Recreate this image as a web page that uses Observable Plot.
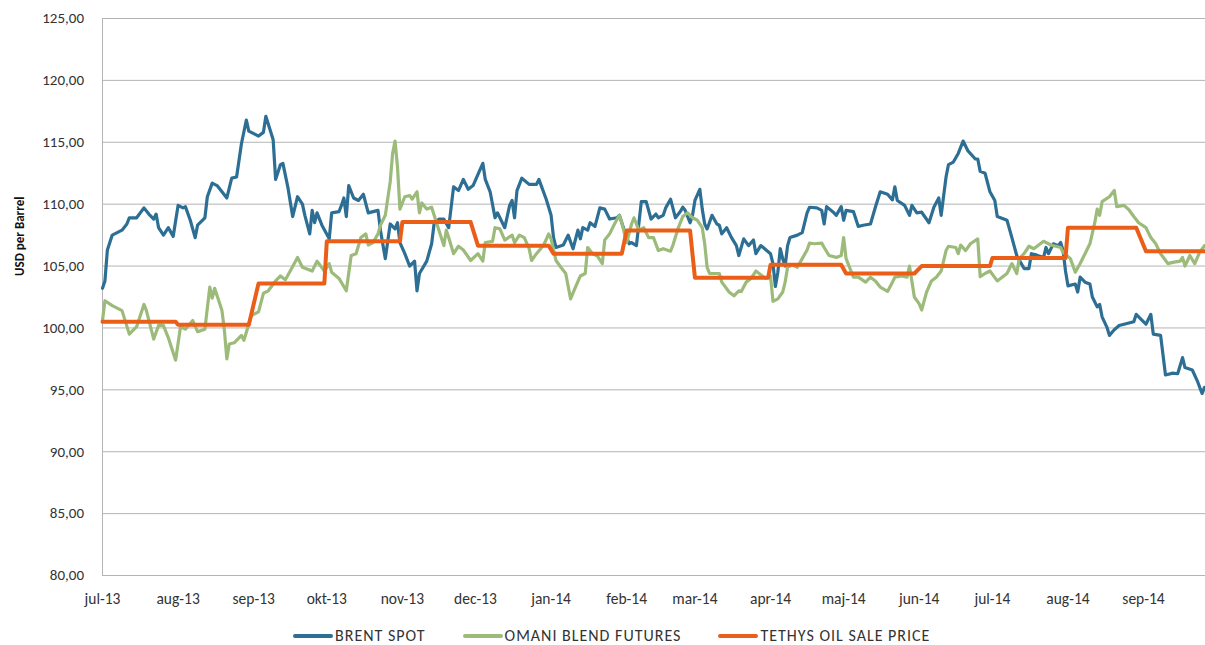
<!DOCTYPE html>
<html>
<head>
<meta charset="utf-8">
<script src="https://cdn.jsdelivr.net/npm/d3@7"></script>
<script src="https://cdn.jsdelivr.net/npm/@observablehq/plot@0.6"></script>
<style>
  html, body { margin: 0; padding: 0; background: #fff; }
  body { width: 1205px; height: 645px; overflow: hidden; font-family: Carlito, Lato, "Liberation Sans", sans-serif; position: relative; }
  #chart svg { display: block; }
  #legend { position: absolute; top: 627px; left: 293px; display: flex; gap: 37px; font-size: 16px; line-height: 17px; color: #333; letter-spacing: 1px; }
  .item { display: flex; align-items: center; }
  .sw { width: 40px; height: 4px; margin-right: 2px; border-radius: 2px; }
</style>
</head>
<body>
<div id="chart"></div>
<div id="legend"></div>
<script>
const seriesNames = ["BRENT SPOT", "OMANI BLEND FUTURES", "TETHYS OIL SALE PRICE"];
const seriesColors = ["#2d6f94", "#9cbb7a", "#eb5e17"];

const yTicks = [80, 85, 90, 95, 100, 105, 110, 115, 120, 125];
const monthTicks = ["2013-07-01","2013-08-01","2013-09-01","2013-10-01","2013-11-01","2013-12-01","2014-01-01","2014-02-01","2014-03-01","2014-04-01","2014-05-01","2014-06-01","2014-07-01","2014-08-01","2014-09-01"];
const monthLabels = ["jul-13","aug-13","sep-13","okt-13","nov-13","dec-13","jan-14","feb-14","mar-14","apr-14","maj-14","jun-14","jul-14","aug-14","sep-14"];

const brent = [
["2013-07-01",103.2],["2013-07-02",103.8],["2013-07-03",106.3],["2013-07-05",107.5],["2013-07-09",107.9],["2013-07-11",108.4],["2013-07-12",108.9],["2013-07-15",108.9],["2013-07-18",109.7],["2013-07-20",109.2],["2013-07-22",108.8],["2013-07-23",109.2],["2013-07-24",108.1],["2013-07-26",107.5],["2013-07-28",108.1],["2013-07-30",107.4],
["2013-08-01",109.9],["2013-08-03",109.7],["2013-08-04",109.8],["2013-08-06",108.7],["2013-08-08",107.3],["2013-08-09",108.3],["2013-08-12",108.9],["2013-08-13",110.6],["2013-08-15",111.7],["2013-08-17",111.5],["2013-08-19",111.0],["2013-08-21",110.5],["2013-08-23",112.1],["2013-08-25",112.2],["2013-08-27",114.9],["2013-08-29",116.8],["2013-08-30",115.9],
["2013-09-03",115.5],["2013-09-05",115.8],["2013-09-06",117.1],["2013-09-09",115.2],["2013-09-10",112.0],["2013-09-12",113.2],["2013-09-13",113.3],["2013-09-15",111.4],["2013-09-17",109.0],["2013-09-19",110.6],["2013-09-21",110.0],["2013-09-22",109.1],["2013-09-24",107.6],["2013-09-25",109.5],["2013-09-26",108.5],["2013-09-27",109.3],["2013-09-29",108.3],
["2013-10-02",107.2],["2013-10-03",109.3],["2013-10-06",109.4],["2013-10-07",109.9],["2013-10-08",110.5],["2013-10-09",109.0],["2013-10-10",111.5],["2013-10-12",110.5],["2013-10-14",110.3],["2013-10-16",110.8],["2013-10-18",109.3],["2013-10-22",109.5],["2013-10-23",107.9],["2013-10-25",105.6],["2013-10-27",108.4],["2013-10-29",108.0],["2013-10-30",108.5],["2013-10-31",106.9],
["2013-11-02",106.0],["2013-11-04",105.0],["2013-11-06",105.4],["2013-11-07",103.0],["2013-11-08",104.4],["2013-11-11",105.4],["2013-11-13",106.8],["2013-11-14",108.4],["2013-11-16",108.8],["2013-11-18",108.8],["2013-11-20",108.1],["2013-11-22",111.4],["2013-11-24",111.1],["2013-11-26",112.0],["2013-11-28",111.2],["2013-11-30",111.5],
["2013-12-03",112.85],["2013-12-04",113.3],["2013-12-05",112.0],["2013-12-07",111.0],["2013-12-09",108.9],["2013-12-10",109.3],["2013-12-13",108.1],["2013-12-15",109.9],["2013-12-16",110.3],["2013-12-17",108.9],["2013-12-18",111.1],["2013-12-20",112.1],["2013-12-23",111.6],["2013-12-26",111.6],["2013-12-27",112.0],["2013-12-30",110.4],
["2014-01-01",109.1],["2014-01-02",107.3],["2014-01-03",106.5],["2014-01-06",106.7],["2014-01-08",107.5],["2014-01-10",106.4],["2014-01-12",107.9],["2014-01-13",107.2],["2014-01-14",108.1],["2014-01-16",107.9],["2014-01-17",108.5],["2014-01-19",108.2],["2014-01-21",109.7],["2014-01-23",109.6],["2014-01-25",108.8],["2014-01-28",108.9],["2014-01-29",109.1],["2014-01-31",107.9],
["2014-02-02",106.8],["2014-02-03",106.9],["2014-02-05",106.65],["2014-02-07",110.2],["2014-02-09",110.2],["2014-02-11",108.8],["2014-02-13",109.2],["2014-02-14",108.9],["2014-02-16",109.1],["2014-02-17",109.7],["2014-02-19",110.4],["2014-02-21",108.9],["2014-02-23",109.4],["2014-02-24",109.75],["2014-02-25",109.5],["2014-02-27",108.5],["2014-02-28",109.1],
["2014-03-01",110.3],["2014-03-03",111.2],["2014-03-04",109.6],["2014-03-05",108.4],["2014-03-06",108.0],["2014-03-08",109.1],["2014-03-10",108.4],["2014-03-11",108.3],["2014-03-12",107.6],["2014-03-14",108.1],["2014-03-16",107.3],["2014-03-18",106.65],["2014-03-19",105.85],["2014-03-21",107.2],["2014-03-23",106.65],["2014-03-25",107.1],["2014-03-26",106.0],["2014-03-28",106.65],["2014-03-29",106.5],
["2014-04-01",106.0],["2014-04-02",105.2],["2014-04-03",103.35],["2014-04-04",104.5],["2014-04-05",106.4],["2014-04-06",105.6],["2014-04-07",105.0],["2014-04-08",106.65],["2014-04-09",107.3],["2014-04-12",107.5],["2014-04-14",107.7],["2014-04-16",109.3],["2014-04-17",109.75],["2014-04-20",109.7],["2014-04-22",109.5],["2014-04-23",108.4],["2014-04-24",109.8],["2014-04-27",109.3],["2014-04-28",109.1],["2014-04-30",109.8],
["2014-05-01",108.7],["2014-05-02",109.5],["2014-05-05",109.4],["2014-05-07",108.2],["2014-05-09",108.3],["2014-05-12",108.4],["2014-05-14",109.75],["2014-05-16",111.0],["2014-05-19",110.8],["2014-05-21",110.35],["2014-05-22",111.4],["2014-05-23",110.3],["2014-05-26",109.9],["2014-05-28",109.1],["2014-05-29",109.9],["2014-05-31",109.3],
["2014-06-02",109.35],["2014-06-05",108.5],["2014-06-07",109.75],["2014-06-09",110.5],["2014-06-10",109.1],["2014-06-12",112.2],["2014-06-13",113.2],["2014-06-15",113.4],["2014-06-17",114.1],["2014-06-19",115.1],["2014-06-21",114.3],["2014-06-24",113.65],["2014-06-25",113.65],["2014-06-26",112.65],["2014-06-28",112.5],["2014-06-30",111.0],
["2014-07-02",110.3],["2014-07-03",109.0],["2014-07-07",108.7],["2014-07-09",107.3],["2014-07-11",105.85],["2014-07-14",104.8],["2014-07-16",104.8],["2014-07-17",106.0],["2014-07-19",105.9],["2014-07-22",105.7],["2014-07-23",106.5],["2014-07-24",106.0],["2014-07-26",106.8],["2014-07-28",106.65],["2014-07-29",106.9],["2014-07-30",106.25],["2014-07-31",104.6],
["2014-08-01",103.4],["2014-08-04",103.55],["2014-08-05",102.9],["2014-08-06",104.1],["2014-08-08",103.7],["2014-08-10",103.55],["2014-08-11",102.5],["2014-08-13",101.7],["2014-08-14",101.9],["2014-08-15",100.9],["2014-08-17",100.05],["2014-08-18",99.4],["2014-08-20",99.85],["2014-08-22",100.2],["2014-08-24",100.3],["2014-08-26",100.4],["2014-08-28",100.5],["2014-08-29",101.1],["2014-08-31",100.7],
["2014-09-02",100.3],["2014-09-04",101.1],["2014-09-05",99.5],["2014-09-08",99.4],["2014-09-10",96.2],["2014-09-13",96.35],["2014-09-15",96.3],["2014-09-17",97.6],["2014-09-18",96.8],["2014-09-21",96.6],["2014-09-23",95.75],["2014-09-25",94.7],["2014-09-26",95.2]
];

const omani = [
["2013-07-01",100.6],["2013-07-02",102.2],["2013-07-05",101.8],["2013-07-08",101.5],["2013-07-09",101.4],["2013-07-12",99.5],["2013-07-15",100.1],["2013-07-18",101.9],["2013-07-19",101.4],["2013-07-22",99.1],["2013-07-24",100.2],["2013-07-26",100.2],["2013-07-28",99.2],["2013-07-31",97.4],
["2013-08-02",100.1],["2013-08-04",99.9],["2013-08-07",100.6],["2013-08-09",99.7],["2013-08-12",99.9],["2013-08-14",103.3],["2013-08-15",102.4],["2013-08-16",103.2],["2013-08-19",101.4],["2013-08-20",99.8],["2013-08-21",97.5],["2013-08-22",98.7],["2013-08-24",98.8],["2013-08-27",99.4],["2013-08-28",99.0],["2013-08-30",100.3],["2013-08-31",101.0],
["2013-09-03",101.3],["2013-09-05",102.8],["2013-09-07",103.0],["2013-09-10",103.8],["2013-09-12",104.2],["2013-09-14",103.9],["2013-09-16",104.6],["2013-09-19",105.7],["2013-09-21",104.9],["2013-09-25",104.6],["2013-09-27",105.4],["2013-09-30",104.6],
["2013-10-02",105.2],["2013-10-03",104.5],["2013-10-06",104.0],["2013-10-09",103.0],["2013-10-11",105.85],["2013-10-13",106.0],["2013-10-15",107.3],["2013-10-17",107.6],["2013-10-18",106.7],["2013-10-20",106.9],["2013-10-22",107.6],["2013-10-23",108.3],["2013-10-25",109.1],["2013-10-27",111.8],["2013-10-28",114.1],["2013-10-29",115.1],["2013-10-30",113.0],["2013-10-31",109.6],
["2013-11-02",110.6],["2013-11-04",110.7],["2013-11-05",110.4],["2013-11-07",111.0],["2013-11-08",109.3],["2013-11-09",110.1],["2013-11-11",109.6],["2013-11-13",109.75],["2013-11-15",108.5],["2013-11-16",107.9],["2013-11-18",106.65],["2013-11-19",107.9],["2013-11-20",107.3],["2013-11-22",106.0],["2013-11-24",106.6],["2013-11-26",106.3],["2013-11-29",105.45],
["2013-12-02",106.0],["2013-12-04",105.4],["2013-12-05",106.9],["2013-12-08",107.0],["2013-12-09",108.1],["2013-12-11",108.0],["2013-12-13",107.1],["2013-12-16",107.5],["2013-12-17",106.9],["2013-12-19",107.5],["2013-12-21",107.3],["2013-12-23",106.4],["2013-12-24",105.45],["2013-12-26",106.0],["2013-12-29",106.7],["2013-12-31",107.6],
["2014-01-01",107.2],["2014-01-03",105.45],["2014-01-05",104.9],["2014-01-07",104.4],["2014-01-09",102.35],["2014-01-11",103.3],["2014-01-13",104.2],["2014-01-15",104.4],["2014-01-16",106.5],["2014-01-18",106.0],["2014-01-20",105.8],["2014-01-22",105.2],["2014-01-23",107.1],["2014-01-25",107.6],["2014-01-27",108.4],["2014-01-29",109.1],["2014-01-30",108.5],
["2014-02-01",106.9],["2014-02-03",108.4],["2014-02-04",108.9],["2014-02-06",107.9],["2014-02-08",108.1],["2014-02-10",107.3],["2014-02-12",107.3],["2014-02-14",106.25],["2014-02-16",106.4],["2014-02-19",106.2],["2014-02-20",106.7],["2014-02-22",108.0],["2014-02-24",109.0],["2014-02-26",109.3],["2014-02-28",108.9],
["2014-03-02",108.7],["2014-03-04",108.1],["2014-03-05",106.8],["2014-03-06",104.9],["2014-03-07",104.4],["2014-03-09",104.4],["2014-03-11",104.4],["2014-03-12",103.7],["2014-03-15",102.9],["2014-03-17",102.6],["2014-03-19",103.0],["2014-03-20",102.95],["2014-03-22",103.7],["2014-03-24",104.0],["2014-03-26",104.6],["2014-03-28",104.3],["2014-03-30",104.0],
["2014-04-01",104.2],["2014-04-02",102.15],["2014-04-04",102.35],["2014-04-06",102.9],["2014-04-07",103.7],["2014-04-08",104.9],["2014-04-10",105.1],["2014-04-12",104.9],["2014-04-14",105.6],["2014-04-16",106.3],["2014-04-17",106.85],["2014-04-19",106.8],["2014-04-22",106.85],["2014-04-23",106.5],["2014-04-25",105.85],["2014-04-28",105.7],["2014-04-30",105.85],
["2014-05-01",107.3],["2014-05-02",105.6],["2014-05-04",104.6],["2014-05-05",104.1],["2014-05-07",104.1],["2014-05-10",103.7],["2014-05-12",104.1],["2014-05-14",103.8],["2014-05-16",103.3],["2014-05-19",102.95],["2014-05-21",103.7],["2014-05-22",104.1],["2014-05-25",104.2],["2014-05-27",104.1],["2014-05-28",105.0],["2014-05-30",102.5],
["2014-06-01",101.95],["2014-06-02",101.45],["2014-06-04",102.9],["2014-06-06",103.8],["2014-06-08",104.1],["2014-06-10",104.6],["2014-06-12",106.25],["2014-06-13",106.6],["2014-06-16",106.5],["2014-06-17",106.0],["2014-06-18",106.7],["2014-06-20",106.25],["2014-06-22",106.8],["2014-06-25",107.2],["2014-06-26",104.15],["2014-06-28",104.4],["2014-06-30",104.6],
["2014-07-03",103.8],["2014-07-05",104.1],["2014-07-07",104.4],["2014-07-09",105.2],["2014-07-11",104.4],["2014-07-12",105.6],["2014-07-14",106.0],["2014-07-16",106.6],["2014-07-18",106.4],["2014-07-22",107.0],["2014-07-25",106.7],["2014-07-29",106.5],["2014-07-30",106.1],
["2014-08-02",105.6],["2014-08-04",104.5],["2014-08-06",105.2],["2014-08-08",106.0],["2014-08-10",106.8],["2014-08-12",108.5],["2014-08-13",109.6],["2014-08-14",109.1],["2014-08-15",110.2],["2014-08-18",110.6],["2014-08-20",111.1],["2014-08-21",109.8],["2014-08-24",109.9],["2014-08-26",109.55],["2014-08-28",109.0],["2014-08-30",108.5],
["2014-09-02",108.1],["2014-09-04",107.3],["2014-09-06",106.8],["2014-09-08",106.0],["2014-09-11",105.2],["2014-09-13",105.3],["2014-09-16",105.4],["2014-09-17",105.7],["2014-09-18",105.0],["2014-09-20",105.85],["2014-09-22",105.2],["2014-09-24",106.1],["2014-09-26",106.65]
];

const tethys = [
["2013-07-01",100.5],["2013-07-31",100.5],["2013-08-01",100.25],["2013-08-30",100.25],
["2013-09-03",103.6],["2013-09-30",103.6],["2013-10-01",107.0],["2013-10-31",107.0],
["2013-11-01",108.55],["2013-11-29",108.55],["2013-12-02",106.65],["2013-12-31",106.65],
["2014-01-02",106.0],["2014-01-30",106.0],["2014-02-01",107.87],["2014-02-27",107.87],
["2014-03-01",104.05],["2014-03-31",104.05],["2014-04-01",105.1],["2014-04-30",105.1],
["2014-05-02",104.4],["2014-05-30",104.4],["2014-06-02",105.0],["2014-06-30",105.0],
["2014-07-01",105.65],["2014-07-31",105.65],["2014-08-01",108.1],["2014-08-29",108.1],
["2014-09-02",106.2],["2014-09-26",106.2]
];

const yLabel = "USD per Barrel";

const toRows = arr => arr.map(([d, v]) => ({date: new Date(d), value: v}));
const lblMap = new Map(monthTicks.map((d, i) => [+new Date(d), monthLabels[i]]));
const fmt = v => v.toFixed(2).replace(".", ",");
const gridColor = "#b4b4b4";

const chart = Plot.plot({
  width: 1205,
  height: 615,
  marginLeft: 102,
  marginRight: 0,
  marginTop: 18,
  marginBottom: 40,
  style: {fontFamily: "Carlito, Lato, 'Liberation Sans', sans-serif", color: "#333", background: "#fff"},
  x: {type: "utc", domain: [new Date("2013-07-01"), new Date("2014-09-26T10:00:00Z")]},
  y: {domain: [80, 125]},
  marks: [
    Plot.gridY(yTicks, {stroke: gridColor, strokeOpacity: 1, strokeWidth: 1}),
    Plot.ruleX([new Date("2013-07-01")], {stroke: gridColor, strokeWidth: 1}),
    Plot.axisY(yTicks, {tickSize: 0, tickPadding: 18.5, tickFormat: fmt, fontSize: 15, label: null}),
    Plot.axisX(monthTicks.map(d => new Date(d)), {tickSize: 0, tickPadding: 17, tickFormat: d => lblMap.get(+d), fontSize: 15.5, label: null}),
    Plot.text([yLabel], {y: [104.2], frameAnchor: "left", rotate: -90, dx: -83, fontWeight: "bold", fontSize: 13, fill: "#111"}),
    Plot.line(toRows(brent), {x: "date", y: "value", stroke: seriesColors[0], strokeWidth: 3.2}),
    Plot.line(toRows(omani), {x: "date", y: "value", stroke: seriesColors[1], strokeWidth: 3.2}),
    Plot.line(toRows(tethys), {x: "date", y: "value", stroke: seriesColors[2], strokeWidth: 4, curve: "linear"})
  ]
});
document.getElementById("chart").appendChild(chart);

const legend = document.getElementById("legend");
seriesNames.forEach((n, i) => {
  const it = document.createElement("div");
  it.className = "item";
  it.innerHTML = `<span class="sw" style="background:${seriesColors[i]}"></span><span>${n}</span>`;
  legend.appendChild(it);
});
</script>
</body>
</html>
